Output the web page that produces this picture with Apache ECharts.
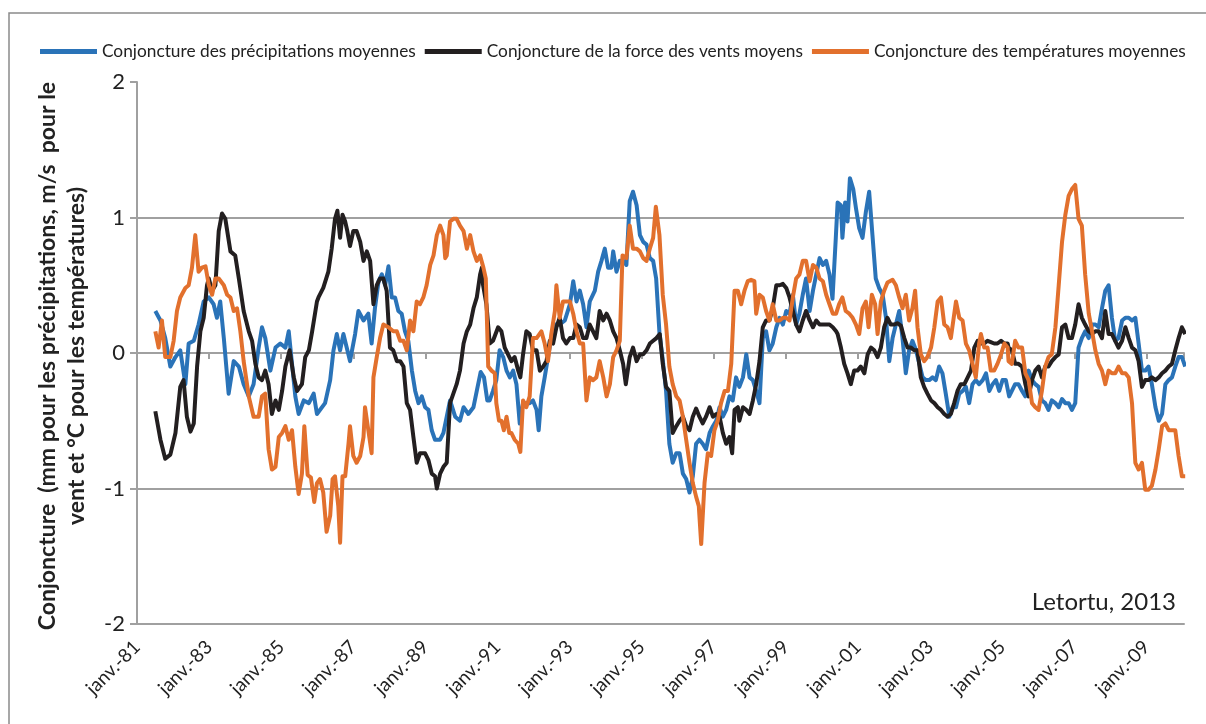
<!DOCTYPE html>
<html>
<head>
<meta charset="utf-8">
<script src="https://cdn.jsdelivr.net/npm/echarts@6/dist/echarts.min.js"></script>
<style>
  html, body { margin: 0; padding: 0; background: #fff; }
  #conjoncture { width: 1206px; height: 724px; }
</style>
</head>
<body>
<div id="conjoncture"></div>
<script>
// mois comptés depuis janv. 1981 -> [mois, valeur]
var precipitations = [
  [6.1,0.31],[7.8,0.24],[9.4,0.11],[11.1,-0.10],[12.8,-0.03],[14.4,0.02],[16.1,-0.23],[17.2,0.07],[18.9,0.09],[20.5,0.21],
  [22.2,0.38],[23.9,0.41],[25.5,0.36],[26.6,0.26],[27.7,0.38],[28.9,0.11],[30.5,-0.30],[32.2,-0.06],[33.9,-0.10],[35.5,-0.23],
  [37.2,-0.32],[38.8,-0.23],[40.5,0.04],[41.6,0.19],[42.7,0.11],[44.4,-0.13],[46.1,0.04],[47.7,0.07],[49.4,0.04],[50.5,0.16],
  [51.6,-0.08],[52.7,-0.32],[53.8,-0.45],[55.5,-0.35],[57.2,-0.37],[58.8,-0.30],[59.9,-0.45],[62.6,-0.37],[64.3,-0.20],[65.4,0.02],
  [66.5,0.14],[67.6,0.02],[68.7,0.14],[69.8,0.04],[70.9,-0.06],[72.6,0.14],[73.7,0.31],[75.4,0.24],[77.0,0.29],[78.1,0.07],
  [79.2,0.33],[80.4,0.53],[81.5,0.58],[82.6,0.50],[83.7,0.64],[84.8,0.41],[85.9,0.41],[87.0,0.31],[88.1,0.29],[89.2,0.16],
  [90.3,0.09],[91.5,-0.13],[92.6,-0.28],[93.7,-0.37],[94.8,-0.32],[95.9,-0.40],[97.0,-0.42],[98.1,-0.57],[99.2,-0.64],[100.9,-0.64],
  [102.0,-0.59],[103.1,-0.47],[104.2,-0.35],[105.9,-0.47],[107.5,-0.50],[108.7,-0.40],[110.3,-0.45],[112.0,-0.40],[113.1,-0.28],[114.4,-0.14],
  [115.5,-0.18],[116.6,-0.35],[117.4,-0.35],[118.5,-0.28],[119.6,-0.20],[120.7,0.02],[121.9,-0.03],[123.0,-0.13],[124.1,-0.18],[125.2,-0.13],
  [126.3,-0.23],[127.4,-0.52],[128.5,-0.37],[129.6,-0.37],[130.7,-0.37],[131.8,-0.35],[133.0,-0.42],[133.7,-0.57],[134.6,-0.32],[135.7,-0.18],
  [136.8,-0.03],[137.9,0.11],[139.1,0.21],[140.7,0.21],[142.4,0.24],[144.1,0.36],[145.2,0.53],[146.3,0.38],[147.4,0.46],[148.5,0.36],
  [149.6,0.19],[150.7,0.38],[152.4,0.46],[153.5,0.60],[154.6,0.68],[155.7,0.77],[156.8,0.63],[157.9,0.63],[158.5,0.75],[159.6,0.60],
  [160.7,0.68],[161.8,0.68],[162.9,0.65],[164.0,1.12],[165.1,1.19],[166.3,1.09],[167.4,0.87],[168.5,0.82],[169.6,0.80],[170.7,0.70],
  [171.8,0.68],[172.8,0.55],[173.9,0.15],[175.0,-0.05],[176.1,-0.28],[177.2,-0.67],[178.3,-0.81],[179.5,-0.74],[180.6,-0.74],[181.7,-0.89],
  [182.8,-0.93],[183.9,-1.03],[185.0,-0.91],[186.1,-0.67],[187.2,-0.64],[188.3,-0.67],[189.4,-0.71],[190.6,-0.59],[191.7,-0.54],[192.8,-0.50],
  [193.9,-0.40],[195.0,-0.47],[196.1,-0.42],[197.2,-0.32],[198.3,-0.35],[199.4,-0.18],[200.5,-0.25],[201.7,-0.18],[202.8,-0.01],[203.9,-0.18],
  [205.0,-0.20],[206.1,-0.28],[207.2,-0.37],[208.3,0.11],[209.4,0.16],[210.5,0.02],[211.6,0.07],[212.8,0.19],[213.9,0.26],[215.0,0.21],
  [216.1,0.31],[217.2,0.29],[218.3,0.43],[219.4,0.21],[220.5,0.29],[221.6,0.43],[222.7,0.55],[223.9,0.31],[225.0,0.46],[226.1,0.58],
  [227.2,0.70],[228.3,0.65],[229.4,0.68],[230.5,0.58],[231.5,0.40],[232.6,0.85],[233.2,1.11],[234.3,1.09],[234.8,0.85],[235.7,1.11],
  [236.5,0.97],[237.3,1.29],[238.4,1.21],[239.3,1.07],[240.4,0.92],[241.5,0.85],[242.6,1.04],[243.7,1.19],[244.8,0.87],[245.9,0.55],
  [247.0,0.48],[248.2,0.43],[249.3,0.26],[250.4,-0.06],[251.5,0.11],[252.6,0.21],[253.7,0.31],[254.8,0.11],[255.9,-0.15],[257.0,0.02],
  [258.1,0.09],[259.3,0.02],[260.4,-0.08],[261.5,-0.18],[262.6,-0.20],[263.7,-0.20],[264.8,-0.18],[265.9,-0.20],[267.0,-0.10],[268.1,-0.15],
  [269.2,-0.30],[270.4,-0.47],[271.5,-0.40],[272.6,-0.40],[273.7,-0.30],[274.8,-0.28],[275.9,-0.25],[277.0,-0.37],[278.1,-0.23],[279.2,-0.20],
  [280.3,-0.23],[281.5,-0.20],[282.6,-0.15],[283.7,-0.28],[284.8,-0.23],[285.9,-0.20],[287.0,-0.28],[288.1,-0.20],[289.2,-0.20],[290.3,-0.32],
  [291.2,-0.28],[292.3,-0.23],[293.4,-0.23],[294.6,-0.28],[295.7,-0.32],[296.8,-0.13],[297.9,-0.20],[299.0,-0.23],[300.1,-0.25],[301.2,-0.35],
  [302.3,-0.37],[303.4,-0.42],[304.5,-0.35],[305.7,-0.37],[306.8,-0.40],[307.9,-0.34],[309.0,-0.37],[310.1,-0.37],[311.2,-0.42],[312.3,-0.37],
  [313.4,0.04],[314.5,0.11],[315.6,0.16],[316.8,0.11],[317.9,0.21],[319.0,0.21],[320.1,0.19],[321.2,0.33],[322.3,0.46],[323.4,0.50],
  [324.5,0.26],[325.6,0.09],[326.7,0.11],[327.9,0.24],[329.0,0.26],[330.1,0.26],[331.2,0.24],[332.3,0.26],[333.4,0.07],[334.5,-0.13],
  [335.6,-0.13],[336.7,-0.10],[337.8,-0.23],[339.0,-0.40],[340.1,-0.50],[341.2,-0.45],[342.3,-0.23],[343.4,-0.20],[344.5,-0.18],[345.6,-0.10],
  [346.7,-0.03],[347.8,-0.03],[348.9,-0.10]
];

var vents = [
  [6.1,-0.43],[7.8,-0.64],[9.4,-0.78],[11.1,-0.75],[12.8,-0.59],[14.4,-0.25],[15.5,-0.20],[16.6,-0.47],[17.8,-0.58],[18.9,-0.52],
  [20.0,-0.10],[21.1,0.16],[22.2,0.26],[23.3,0.50],[23.9,0.55],[25.0,0.46],[26.1,0.50],[27.2,0.90],[28.3,1.03],[29.4,0.99],
  [31.1,0.75],[32.7,0.72],[33.9,0.55],[35.5,0.31],[37.2,0.16],[38.3,0.09],[39.4,-0.08],[40.5,-0.18],[41.6,-0.20],[42.7,-0.13],
  [43.8,-0.23],[44.9,-0.45],[46.1,-0.35],[47.2,-0.42],[48.3,-0.28],[49.4,-0.10],[50.8,0.02],[52.2,-0.18],[53.3,-0.28],[54.9,-0.23],
  [56.0,-0.03],[57.2,0.02],[58.3,0.16],[59.9,0.38],[60.4,0.41],[62.0,0.48],[63.7,0.60],[64.8,0.77],[65.9,0.99],[66.7,1.05],
  [67.6,0.85],[68.4,1.02],[69.3,0.97],[70.0,0.90],[70.9,0.79],[72.0,0.90],[73.1,0.90],[74.3,0.82],[75.4,0.68],[76.5,0.75],
  [77.6,0.68],[78.7,0.36],[79.8,0.50],[80.9,0.55],[82.0,0.55],[83.1,0.46],[84.2,0.04],[85.3,0.02],[86.5,-0.06],[87.6,-0.06],
  [88.7,-0.10],[89.8,-0.37],[90.9,-0.42],[92.0,-0.62],[93.1,-0.81],[94.2,-0.74],[95.9,-0.74],[97.0,-0.79],[98.1,-0.89],[99.2,-0.91],
  [99.8,-1.00],[100.9,-0.89],[102.0,-0.84],[103.1,-0.81],[104.2,-0.37],[105.3,-0.30],[106.4,-0.23],[107.5,-0.13],[108.7,0.07],[109.8,0.16],
  [110.9,0.21],[112.0,0.33],[113.1,0.41],[114.2,0.58],[114.8,0.63],[115.2,0.50],[116.3,0.36],[117.4,0.07],[118.5,0.09],[120.2,0.19],
  [121.3,0.16],[122.4,0.04],[123.5,-0.01],[124.6,-0.06],[125.7,-0.03],[126.9,-0.13],[127.6,-0.18],[128.5,-0.01],[129.6,0.16],[130.7,0.14],
  [131.8,0.02],[133.0,0.02],[134.1,-0.13],[135.2,-0.10],[136.3,-0.06],[137.4,0.09],[138.5,0.07],[139.6,0.19],[140.7,0.26],[141.8,0.11],
  [142.9,0.07],[144.1,0.11],[145.2,0.11],[146.3,0.21],[147.4,0.19],[148.5,0.11],[149.6,0.11],[150.7,0.21],[151.8,0.16],[152.9,0.11],
  [154.0,0.31],[155.2,0.24],[156.3,0.29],[157.4,0.24],[158.5,0.16],[159.6,0.11],[160.7,0.02],[161.8,-0.08],[162.7,-0.23],[164.0,-0.03],
  [165.1,0.04],[166.3,-0.06],[167.4,-0.01],[168.5,-0.01],[169.6,0.02],[170.7,0.07],[171.8,0.09],[172.9,0.11],[174.0,0.14],[175.0,-0.08],
  [176.1,-0.25],[177.2,-0.28],[178.3,-0.59],[179.5,-0.54],[180.6,-0.50],[181.7,-0.47],[182.8,-0.54],[183.9,-0.57],[185.0,-0.47],[186.1,-0.41],
  [187.2,-0.47],[188.3,-0.52],[189.4,-0.47],[190.6,-0.40],[191.7,-0.47],[192.8,-0.45],[193.9,-0.47],[195.0,-0.59],[196.1,-0.67],[197.2,-0.62],
  [198.1,-0.74],[198.9,-0.42],[200.0,-0.40],[200.5,-0.50],[201.7,-0.40],[202.8,-0.42],[203.9,-0.45],[205.0,-0.35],[206.1,-0.23],[207.2,-0.06],
  [208.3,0.19],[209.4,0.24],[210.5,0.24],[211.6,0.33],[212.8,0.50],[213.9,0.50],[215.0,0.51],[216.1,0.48],[217.2,0.41],[218.3,0.31],
  [219.4,0.21],[220.5,0.16],[221.6,0.24],[222.7,0.31],[223.9,0.24],[225.0,0.19],[226.1,0.24],[227.2,0.21],[228.3,0.21],[229.4,0.21],
  [230.5,0.21],[231.6,0.19],[232.7,0.16],[233.2,0.14],[234.3,0.04],[235.4,-0.08],[236.5,-0.15],[237.6,-0.23],[238.7,-0.13],[239.8,-0.13],
  [240.9,-0.10],[242.1,-0.15],[243.2,-0.01],[244.3,0.04],[245.4,0.02],[246.5,-0.03],[247.6,0.04],[248.7,0.19],[249.8,0.26],[250.9,0.21],
  [252.0,0.21],[253.2,0.22],[254.3,0.20],[255.4,0.11],[256.5,0.04],[257.6,0.04],[258.7,0.02],[259.8,0.02],[260.9,-0.18],[262.0,-0.25],
  [263.1,-0.30],[264.3,-0.35],[265.4,-0.37],[266.5,-0.40],[267.6,-0.42],[268.7,-0.45],[269.8,-0.47],[270.9,-0.45],[272.0,-0.37],[273.1,-0.28],
  [274.2,-0.23],[275.4,-0.23],[276.5,-0.18],[277.6,-0.13],[278.7,0.04],[279.8,0.09],[280.9,0.07],[282.0,0.07],[283.1,0.09],[284.2,0.08],
  [285.3,0.07],[286.4,0.07],[287.6,0.09],[288.7,0.07],[289.8,0.07],[290.1,0.04],[291.2,0.02],[292.3,-0.08],[293.4,-0.08],[294.6,-0.10],
  [295.7,-0.23],[296.8,-0.32],[297.9,-0.20],[299.0,-0.13],[300.1,-0.10],[301.2,-0.18],[302.3,-0.10],[303.4,-0.10],[304.5,-0.06],[305.7,-0.03],
  [306.8,-0.01],[307.9,0.19],[309.0,0.21],[310.1,0.11],[311.2,0.11],[312.3,0.21],[313.4,0.36],[314.5,0.26],[315.6,0.21],[316.8,0.16],
  [317.9,0.14],[319.0,0.16],[320.1,0.16],[321.2,0.11],[322.3,0.31],[323.4,0.14],[324.5,0.14],[325.6,0.09],[326.7,0.04],[327.9,0.09],
  [329.0,0.19],[330.1,0.11],[331.2,0.04],[332.3,0.02],[333.4,-0.06],[334.5,-0.25],[335.6,-0.20],[336.7,-0.20],[337.8,-0.18],[339.0,-0.20],
  [340.1,-0.18],[341.2,-0.15],[342.3,-0.13],[343.4,-0.10],[344.5,-0.08],[345.6,0.02],[346.7,0.11],[347.8,0.19],[348.9,0.14]
];

var temperatures = [
  [6.1,0.16],[7.2,0.04],[8.3,0.24],[9.4,-0.03],[11.1,-0.03],[12.2,0.09],[13.3,0.31],[14.4,0.41],[16.1,0.48],[17.2,0.50],
  [18.3,0.63],[19.4,0.87],[20.5,0.60],[21.6,0.63],[22.8,0.64],[23.9,0.50],[25.0,0.43],[26.1,0.55],[27.2,0.55],[28.9,0.50],
  [30.0,0.43],[31.1,0.41],[32.2,0.31],[33.3,0.33],[34.4,0.16],[35.5,-0.06],[37.2,-0.32],[38.8,-0.47],[40.5,-0.47],[41.6,-0.32],
  [42.7,-0.30],[43.8,-0.71],[44.9,-0.86],[46.1,-0.84],[47.2,-0.62],[48.3,-0.59],[49.4,-0.54],[50.5,-0.64],[51.6,-0.57],[52.7,-0.84],
  [53.8,-1.04],[54.9,-0.89],[55.7,-0.54],[56.8,-0.90],[57.9,-0.92],[59.0,-1.10],[59.9,-0.96],[60.9,-0.93],[62.0,-1.03],[63.1,-1.32],
  [64.3,-1.20],[65.1,-0.93],[65.9,-0.91],[67.0,-1.13],[67.6,-1.40],[68.4,-0.91],[69.3,-0.91],[70.4,-0.67],[70.9,-0.54],[72.0,-0.76],
  [73.1,-0.81],[74.3,-0.76],[75.4,-0.62],[75.9,-0.40],[77.0,-0.57],[78.1,-0.74],[78.7,-0.18],[79.8,-0.03],[80.9,0.11],[82.0,0.21],
  [83.7,0.19],[85.3,0.16],[86.5,0.16],[87.6,0.09],[88.7,0.09],[89.8,0.02],[90.9,0.24],[92.0,0.16],[93.1,0.38],[94.2,0.36],
  [95.3,0.41],[96.4,0.50],[97.6,0.65],[98.7,0.72],[99.8,0.87],[100.9,0.94],[102.0,0.87],[102.6,0.70],[103.1,0.72],[104.2,0.97],
  [105.3,0.99],[106.4,0.99],[107.5,0.94],[108.7,0.90],[109.8,0.77],[110.9,0.87],[112.0,0.75],[113.1,0.68],[114.2,0.72],[115.3,0.63],
  [116.1,0.55],[116.9,-0.10],[118.0,-0.13],[119.1,-0.15],[119.6,-0.37],[120.5,-0.50],[121.3,-0.50],[122.1,-0.57],[123.0,-0.47],[123.9,-0.59],
  [124.6,-0.59],[125.7,-0.64],[126.9,-0.67],[127.6,-0.73],[128.5,-0.35],[129.6,-0.40],[130.7,-0.32],[131.8,0.11],[133.0,0.11],[134.6,0.16],
  [135.7,0.07],[136.8,-0.06],[137.9,0.14],[139.1,0.31],[139.6,0.50],[140.7,0.26],[141.8,0.38],[142.9,0.38],[144.1,0.38],[145.2,0.29],
  [146.3,0.16],[147.4,0.07],[148.5,0.07],[149.6,-0.35],[150.7,-0.18],[151.8,-0.20],[152.9,-0.18],[154.0,-0.06],[155.2,-0.18],[156.3,-0.32],
  [157.4,-0.23],[158.5,-0.03],[159.6,0.02],[160.7,0.09],[161.6,0.72],[162.9,0.70],[164.0,0.94],[165.1,0.77],[166.3,0.77],[167.4,0.75],
  [168.5,0.70],[169.6,0.68],[170.7,0.77],[171.8,0.85],[172.7,1.08],[173.9,0.87],[175.0,0.43],[176.1,0.21],[177.2,-0.10],[178.3,-0.23],
  [179.5,-0.32],[180.6,-0.35],[181.7,-0.47],[182.8,-0.64],[183.9,-0.81],[185.0,-0.96],[186.1,-1.06],[187.0,-1.13],[187.8,-1.41],[188.9,-0.96],
  [190.0,-0.74],[191.1,-0.76],[192.2,-0.57],[193.3,-0.50],[194.4,-0.37],[195.6,-0.28],[196.7,-0.28],[197.8,-0.08],[198.9,0.46],[200.0,0.46],
  [201.1,0.36],[202.2,0.46],[203.3,0.53],[204.4,0.54],[205.5,0.53],[206.1,0.29],[207.2,0.43],[208.3,0.41],[209.4,0.31],[210.5,0.24],
  [211.6,0.36],[212.8,0.24],[213.9,0.24],[215.0,0.26],[216.1,0.26],[217.2,0.24],[218.3,0.41],[219.4,0.55],[220.5,0.58],[221.6,0.68],
  [222.7,0.68],[223.9,0.53],[225.0,0.65],[226.1,0.63],[227.2,0.55],[228.3,0.53],[229.4,0.43],[230.5,0.36],[231.6,0.29],[232.7,0.29],
  [233.7,0.36],[234.8,0.41],[235.9,0.31],[237.1,0.29],[238.2,0.26],[239.3,0.21],[240.4,0.14],[241.5,0.33],[242.6,0.38],[243.5,0.19],
  [244.6,0.43],[245.7,0.36],[246.5,0.14],[247.6,0.38],[248.7,0.46],[249.8,0.52],[251.5,0.54],[252.6,0.50],[253.7,0.41],[254.8,0.33],
  [255.9,0.43],[257.0,0.24],[258.1,0.33],[259.0,0.46],[259.8,0.19],[260.9,-0.01],[262.0,-0.06],[263.1,-0.03],[264.3,0.04],[265.4,0.19],
  [266.5,0.38],[267.6,0.41],[268.7,0.21],[269.8,0.19],[270.9,0.11],[272.6,0.38],[273.7,0.26],[274.8,0.24],[275.9,0.07],[277.0,0.02],
  [278.1,-0.08],[279.2,-0.18],[280.3,0.07],[280.9,0.14],[282.0,0.04],[283.1,0.04],[284.2,-0.13],[285.3,-0.13],[286.4,-0.08],[287.6,-0.01],
  [288.7,0.07],[289.8,0.04],[290.1,-0.06],[291.2,-0.08],[292.3,0.09],[293.4,0.04],[294.6,0.04],[295.7,-0.15],[296.8,-0.20],[297.9,-0.37],
  [299.0,-0.40],[300.1,-0.42],[301.2,-0.28],[302.3,-0.10],[303.4,-0.03],[304.5,-0.01],[305.7,0.19],[306.8,0.50],[307.9,0.82],[309.0,1.02],
  [310.1,1.16],[311.2,1.21],[312.3,1.24],[313.4,0.99],[314.5,0.94],[315.6,0.58],[316.8,0.29],[317.9,0.16],[319.0,0.02],[320.1,-0.08],
  [321.2,-0.13],[322.3,-0.23],[323.4,-0.13],[324.5,-0.15],[325.6,-0.15],[326.7,-0.10],[327.9,-0.15],[329.0,-0.15],[330.1,-0.18],[331.2,-0.37],
  [332.3,-0.81],[333.4,-0.86],[334.5,-0.81],[335.6,-1.01],[336.7,-1.01],[337.8,-0.98],[339.0,-0.86],[340.1,-0.71],[341.2,-0.54],[342.3,-0.52],
  [343.4,-0.57],[344.5,-0.57],[345.6,-0.57],[346.7,-0.76],[347.8,-0.91],[348.9,-0.91]
];

// une étiquette tous les 24 mois
var tickLabels = ['janv.-81','janv.-83','janv.-85','janv.-87','janv.-89','janv.-91','janv.-93','janv.-95',
                  'janv.-97','janv.-99','janv.-01','janv.-03','janv.-05','janv.-07','janv.-09'];

var seriesNames = ['Conjoncture des précipitations moyennes',
                   'Conjoncture de la force des vents moyens',
                   'Conjoncture des températures moyennes'];

var font = 'Lato, "Open Sans", sans-serif';
var gris = '#a0a0a0';

var myChart = echarts.init(document.getElementById('conjoncture'));

var option = {
    backgroundColor: '#fff',
    animation: false,
    color: ['#2a73b8', '#231f20', '#e2702d'],
    legend: {
        data: seriesNames,
        left: 35,
        top: 38,
        width: 1190,
        icon: 'rect',
        itemWidth: 57,
        itemHeight: 5,
        itemGap: 9,
        textStyle: { fontFamily: font, fontSize: 17.3, color: '#222' }
    },
    grid: {
        left: 137, right: 22, top: 82, bottom: 100,
        containLabel: false,
        outerBoundsMode: 'none'
    },
    xAxis: [
        {
            type: 'value',
            position: 'bottom',
            min: 0, max: 348.5, interval: 24,
            axisLine: { onZero: false, lineStyle: { color: gris, width: 2 } },
            axisTick: { show: false },
            splitLine: { show: false },
            axisLabel: {
                rotate: 45,
                margin: 20,
                showMaxLabel: false,
                fontFamily: font, fontSize: 19, color: '#222',
                formatter: function (v) {
                    return v % 24 === 0 ? tickLabels[v / 24] : '';
                }
            }
        },
        {
            // ligne du zéro avec ses graduations
            type: 'value',
            position: 'top',
            min: 0, max: 348.5, interval: 24,
            axisLine: { onZero: true, onZeroAxisIndex: 0, lineStyle: { color: gris, width: 2 } },
            axisTick: { show: true, inside: true, length: 6, lineStyle: { color: gris, width: 2 } },
            axisLabel: { show: false },
            splitLine: { show: false }
        }
    ],
    yAxis: {
        type: 'value',
        min: -2, max: 2, interval: 1,
        axisLine: { show: true, lineStyle: { color: gris, width: 2 } },
        axisTick: { show: true, length: 7, lineStyle: { color: gris, width: 2 } },
        splitLine: { show: true, showMaxLine: false, lineStyle: { color: gris, width: 2 } },
        axisLabel: { margin: 12, fontFamily: font, fontSize: 22, color: '#222' }
    },
    graphic: [
        {
            type: 'rect',
            silent: true,
            shape: { x: 9, y: 13, width: 1400, height: 900 },
            style: { fill: null, stroke: '#8a8a8a', lineWidth: 1.5 },
            z: -1
        },
        {
            type: 'text',
            x: 62, y: 356,
            rotation: Math.PI / 2,
            style: {
                text: 'Conjoncture  (mm pour les précipitations, m/s  pour le\nvent et °C pour les températures)',
                align: 'center',
                verticalAlign: 'middle',
                lineHeight: 29,
                font: 'bold 23px ' + font,
                fill: '#222'
            }
        },
        {
            type: 'text',
            x: 1176, y: 602,
            style: {
                text: 'Letortu, 2013',
                align: 'right',
                verticalAlign: 'middle',
                font: '24px ' + font,
                fill: '#222'
            }
        }
    ],
    series: [
        { name: seriesNames[0], type: 'line', data: precipitations, showSymbol: false, lineStyle: { width: 4, join: 'round' } },
        { name: seriesNames[1], type: 'line', data: vents, showSymbol: false, lineStyle: { width: 4, join: 'round' } },
        { name: seriesNames[2], type: 'line', data: temperatures, showSymbol: false, lineStyle: { width: 4, join: 'round' } }
    ]
};

myChart.setOption(option);
</script>
</body>
</html>
